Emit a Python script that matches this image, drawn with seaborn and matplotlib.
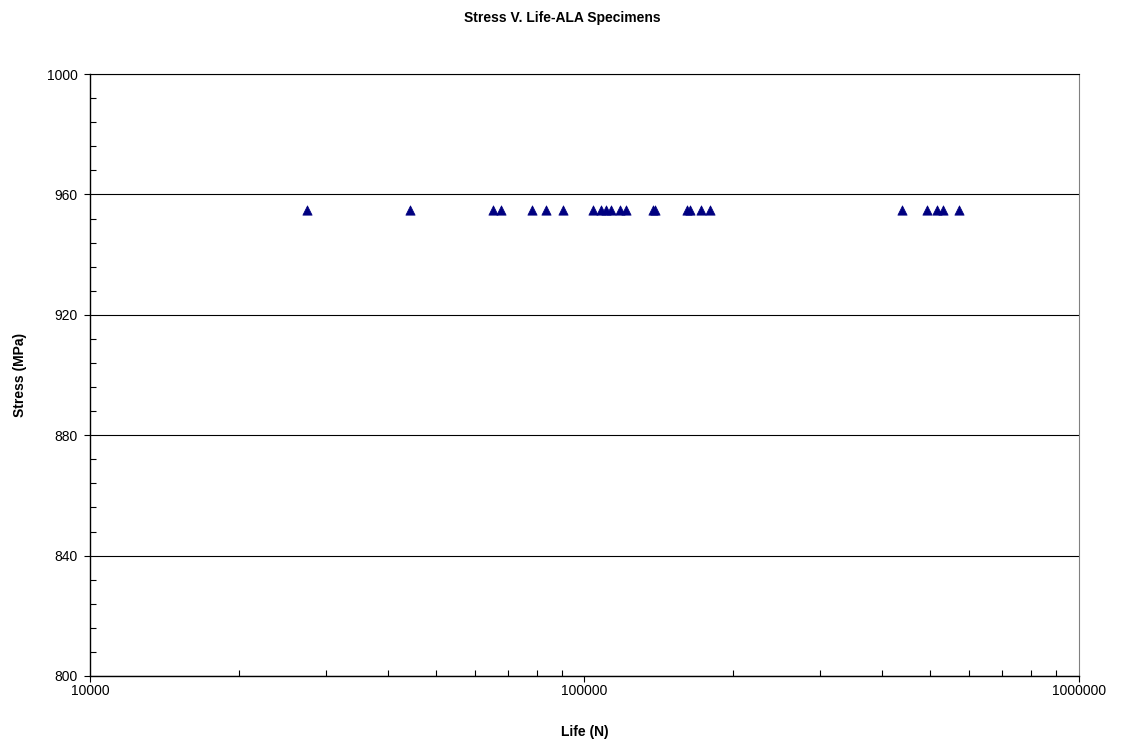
import numpy as np
import pandas as pd
import matplotlib
matplotlib.use("Agg")
import matplotlib.pyplot as plt
import seaborn as sns
from matplotlib.ticker import FixedLocator, MultipleLocator, LogLocator, NullFormatter

# cycles to failure, all at the same stress level
life = [27460, 44370, 65320, 67800, 78310, 83580, 90460, 104040, 107990,
        110530, 113130, 117980, 121310, 137550, 138850, 161220, 163470,
        172020, 179390, 438660, 492720, 516290, 530870, 571940]
stress = [955] * len(life)

df = pd.DataFrame({"Life (N)": life, "Stress (MPa)": stress})

sns.set_style("white")
plt.rcParams['font.family'] = ['Liberation Sans', 'DejaVu Sans']
plt.rcParams['text.color'] = 'black'
plt.rcParams['axes.labelcolor'] = 'black'

fig = plt.figure(figsize=(11.25, 7.44), dpi=100)
ax = fig.add_axes([0.08, 0.0914, 0.879, 0.809])

sns.scatterplot(data=df, x="Life (N)", y="Stress (MPa)", marker="^", s=45,
                color="#000080", edgecolor="#000080", linewidth=0.5, ax=ax, zorder=3)

ax.set_xscale("log")
ax.set_xlim(10000, 1000000)
ax.set_ylim(800, 1000)
ax.xaxis.set_major_locator(FixedLocator([10000, 100000, 1000000]))
ax.xaxis.set_minor_locator(LogLocator(base=10, subs=np.arange(2, 10)))
ax.xaxis.set_minor_formatter(NullFormatter())
ax.set_xticklabels(["10000", "100000", "1000000"])
ax.yaxis.set_major_locator(MultipleLocator(40))
ax.yaxis.set_minor_locator(MultipleLocator(8))

ax.grid(axis="y", which="major", color="black", linewidth=0.8)
ax.set_axisbelow(True)

ax.tick_params(which="both", bottom=True, left=True, top=False, right=False)
ax.tick_params(which="major", direction="out", length=4, width=0.8, labelsize=10,
               colors="black")
ax.tick_params(axis="x", which="major", pad=1.5)
ax.tick_params(axis="y", which="major", pad=5)
ax.tick_params(which="minor", direction="in", length=4, width=0.8, colors="black")

for side in ["left", "bottom"]:
    ax.spines[side].set_color("black")
    ax.spines[side].set_linewidth(1.0)
ax.spines["right"].set_color("#808080")
ax.spines["top"].set_color("black")
ax.spines["right"].set_linewidth(0.8)

ax.set_xlabel("Life (N)", fontsize=10, fontweight="bold", labelpad=20)
ax.set_ylabel("Stress (MPa)", fontsize=10, fontweight="bold", labelpad=14)
fig.suptitle("Stress V. Life-ALA Specimens", fontsize=10, fontweight="bold", y=0.985)

fig.savefig("out.png", dpi=100, facecolor="white")
